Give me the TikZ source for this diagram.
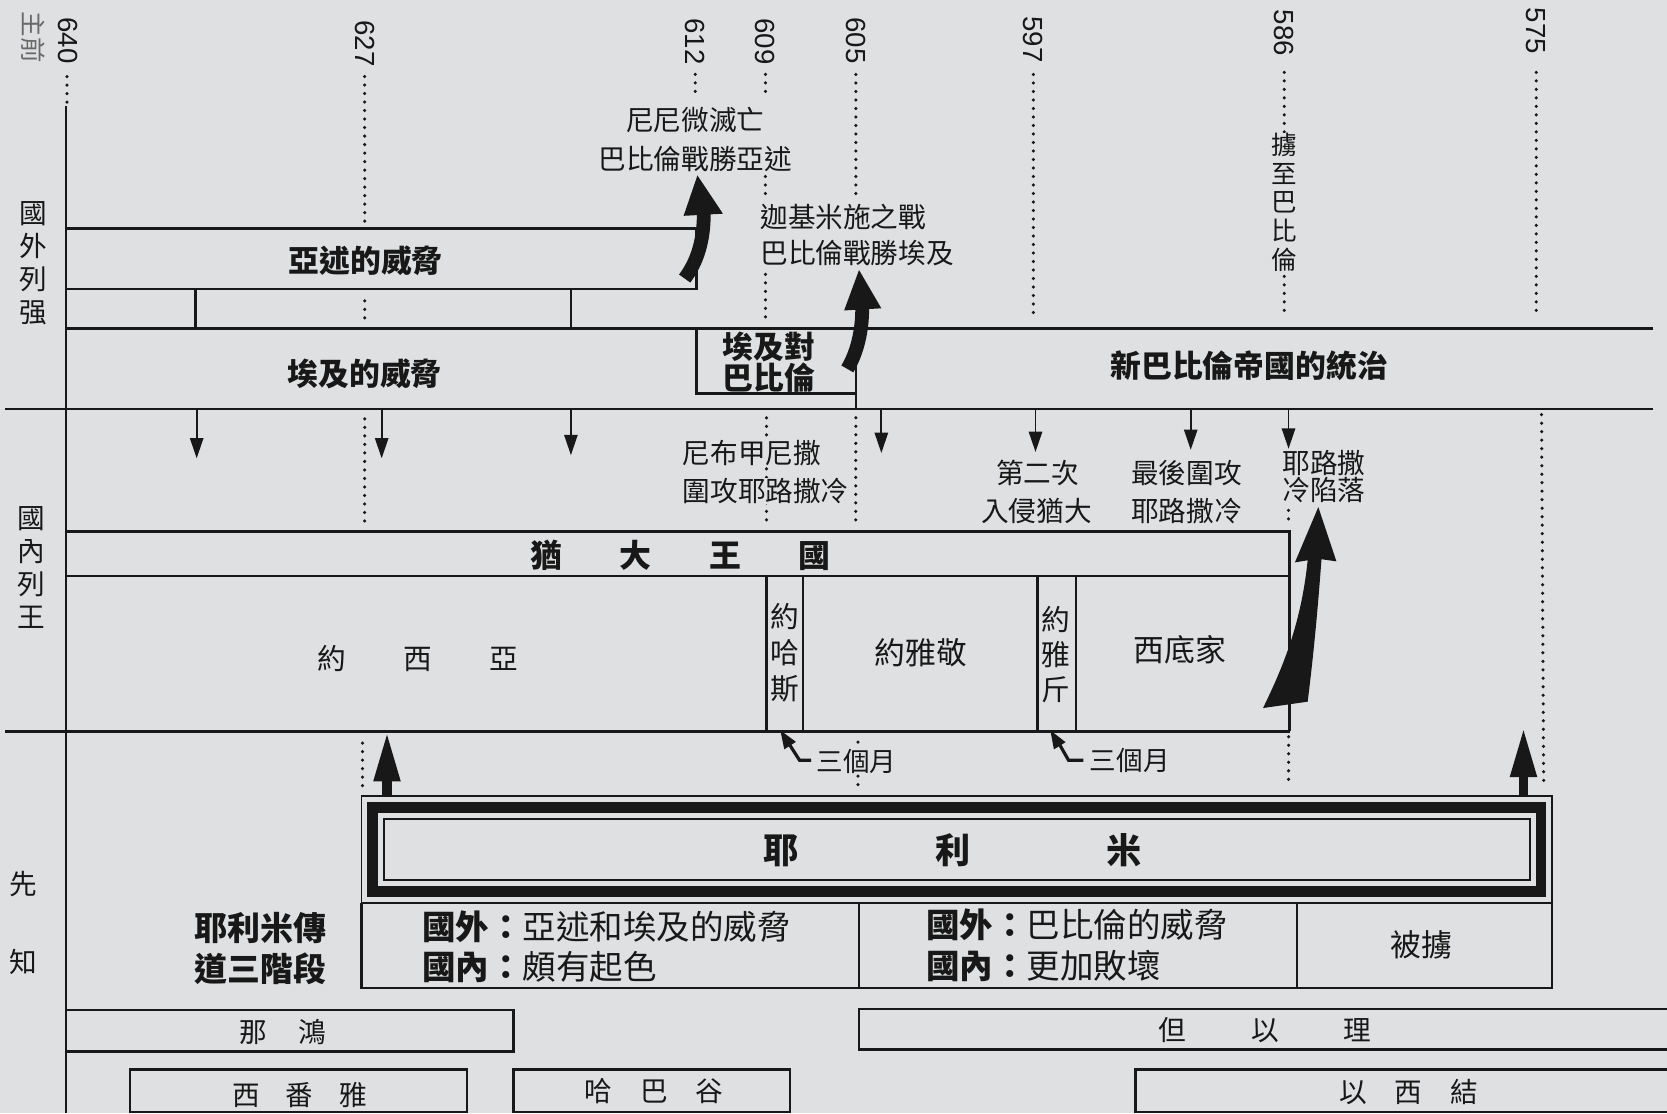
\documentclass[tikz,border=0pt]{standalone}
\usepackage{fontspec}
\setmainfont{Liberation Sans}
\newfontfamily\cjk{Noto Sans CJK TC}
\definecolor{bg}{RGB}{222,224,225}
\definecolor{ink}{RGB}{24,24,24}
\newcommand{\myfs}[1]{\fontsize{#1}{#1}\selectfont}
\newcommand{\myfsb}[2]{\fontsize{#1}{#2}\selectfont}
\begin{document}
\begin{tikzpicture}[x=1pt,y=-1pt,
  ln/.style={line width=2.2pt, draw=ink},
  thin/.style={line width=1.7pt, draw=ink},
  dots/.style={line width=3.3pt, line cap=round, dash pattern=on 0pt off 8pt, draw=ink},
  txt/.style={inner sep=0pt, text=ink, font=\cjk\myfs{26}},
  btxt/.style={inner sep=0pt, text=ink, font=\cjk\bfseries\myfs{29}},
  yr/.style={inner sep=0pt, text=ink, rotate=-90, font=\myfs{26}}]
\fill[bg] (0,0) rectangle (1568,1047);
\useasboundingbox (0,0) rectangle (1568,1047);
\clip (0,0) rectangle (1568,1047);

% axis
\draw[ln] (62,100) -- (62,1047);
\draw[dots] (63,72) -- (63,97);

% year labels
\node[yr] (y640) at (64,38) {640};
\node[yr] (y627) at (343,41) {627};
\node[yr] (y612) at (654,39) {612};
\node[yr] (y609) at (720,39) {609};
\node[yr] (y605) at (805,38) {605};
\node[yr] (y597) at (972,37) {597};
\node[yr] (y586) at (1208,31) {586};
\node[yr] (y575) at (1445,29) {575};
\node[yr, font=\cjk\myfs{24}, text=ink!65] (zq) at (31,35) {主前};

% dotted year lines
\draw[dots] (343,72) -- (343,210);
\draw[dots] (343,283) -- (343,306);
\draw[dots] (343,394) -- (343,495);
\draw[dots] (341,699) -- (341,741);
\draw[dots] (654,70) -- (654,91);
\draw[dots] (720,70) -- (720,91);
\draw[dots] (720,166) -- (720,188);
\draw[dots] (720,258) -- (720,301);
\draw[dots] (721,393) -- (721,496);
\draw[dots] (805,70) -- (805,186);
\draw[dots] (805,393) -- (805,494);
\draw[dots] (807,698) -- (807,738);
\draw[dots] (972,70) -- (972,298);
\draw[dots] (1208,68) -- (1208,298);
\draw[dots] (1212,480) -- (1212,492);
\draw[dots] (1212,693) -- (1212,740);
\draw[dots] (1445,68) -- (1445,295);
\draw[dots] (1450,390) -- (1452,740);

% foreign powers
\draw[ln] (62,215) -- (655,215) -- (655,272) -- (62,272);
\draw[ln] (184,272) -- (184,309);
\draw[ln] (537,272) -- (537,309);
\draw[ln] (62,309) -- (1555,309);
\draw[ln] (655,309) -- (655,370) -- (805,370);
\draw[ln] (805,309) -- (805,385);
\draw[ln] (5,385) -- (1555,385);

% down arrows
\foreach \x/\t in {185/431, 359/431, 537/428, 829/426, 974/425, 1120/423, 1212/422} {
  \draw[thin] (\x,385) -- (\x,\t-14);
  \fill[ink] (\x-6.5,\t-19) -- (\x+6.5,\t-19) -- (\x,\t) -- cycle;
}

% kingdom
\draw[ln] (62,500) -- (1213,500) -- (1213,688);
\draw[ln] (62,542) -- (1213,542);
\draw[ln] (5,688) -- (1213,688);
\draw[ln] (721,542) -- (721,688);
\draw[ln] (755,542) -- (755,688);
\draw[ln] (976,542) -- (976,688);
\draw[ln] (1012,542) -- (1012,688);

% Jeremiah frame
\draw[thin] (340,749) rectangle (1460,849);
\draw[ink, line width=10pt] (350.5,759.5) rectangle (1449.5,838.5);
\draw[thin] (361,770) rectangle (1439,828);
\draw[ln] (340,849) -- (340,929) -- (1460,929) -- (1460,849);
\draw[ln] (808,849) -- (808,929);
\draw[ln] (1220,849) -- (1220,929);

% up arrows from Jeremiah
\fill[ink] (359,749) rectangle (369,733);
\fill[ink] (351,735) -- (377,735) -- (364,691) -- cycle;
\fill[ink] (1429,749) rectangle (1437,729);
\fill[ink] (1420,731) -- (1446,731) -- (1433,687) -- cycle;

% prophets boxes
\draw[ln] (62,950) -- (483,950) -- (483,989) -- (62,989);
\draw[ln] (1570,949) -- (808,949) -- (808,987) -- (1570,987);
\draw[ln] (122,1046) -- (122,1006) -- (439,1006) -- (439,1046) -- cycle;
\draw[ln] (483,1046) -- (483,1006) -- (743,1006) -- (743,1046) -- cycle;
\draw[ln] (1570,1006) -- (1068,1006) -- (1068,1046) -- (1570,1046);

% curved arrows
\draw[ink, line width=13pt] (644,262) .. controls (656,246) and (662,226) .. (662,201);
\fill[ink] (643,203) -- (680,201) -- (656,165) -- cycle;
\draw[ink, line width=13pt] (797,347) .. controls (806,332) and (811,312) .. (811,290);
\fill[ink] (794,292) -- (829,290) -- (808,254) -- cycle;
\fill[ink] (1240,477) -- (1257,528) -- (1243,526) .. controls (1239,580) and (1235,620) .. (1230,660) -- (1188,666) .. controls (1208,625) and (1224,585) .. (1230,527) -- (1218,529) -- cycle;

% three-month arrows
\draw[ink, line width=3pt] (763,715) -- (752,715) -- (743,701);
\fill[ink] (734,687) -- (748.7,697.8) -- (737.7,704.8) -- cycle;
\draw[ink, line width=3pt] (1019,715) -- (1005,715) -- (997,701);
\fill[ink] (988,687) -- (1002.3,698.1) -- (991.3,704.9) -- cycle;

% side labels
\node[txt, align=center, font=\cjk\myfsb{26}{31}] (gw) at (31,248) {國\\外\\列\\强};
\node[txt, align=center, font=\cjk\myfsb{26}{31}] (gn) at (29,534) {國\\內\\列\\王};
\node[txt] (xian) at (22,832) {先};
\node[txt] (zhi) at (22,905) {知};

% bold labels
\node[btxt] (asshur) at (344,245) {亞述的威脅};
\node[btxt] (egypt) at (343,352) {埃及的威脅};
\node[btxt] (nbab) at (1175,344) {新巴比倫帝國的統治};
\node[btxt] (evb1) at (723,326) {埃及對};
\node[btxt] (evb2) at (723,355) {巴比倫};
\node[btxt, font=\cjk\bfseries\myfs{30}] (judah) at (640,522) {猶\hspace{54pt}大\hspace{54pt}王\hspace{54pt}國};
\node[btxt, font=\cjk\bfseries\myfs{33}] (jer) at (896,800) {耶\hspace{128pt}利\hspace{128pt}米};
\node[btxt, font=\cjk\bfseries\myfs{31}] (st1) at (245,873) {耶利米傳};
\node[btxt, font=\cjk\bfseries\myfs{31}] (st2) at (245,911) {道三階段};

% stage boxes
\node[txt, anchor=west, font=\cjk\myfs{31.5}] (s1a) at (397,872) {{\bfseries 國外：}亞述和埃及的威脅};
\node[txt, anchor=west, font=\cjk\myfs{31.5}] (s1b) at (397,910) {{\bfseries 國內：}頗有起色};
\node[txt, anchor=west, font=\cjk\myfs{31.5}] (s2a) at (871,870) {{\bfseries 國外：}巴比倫的威脅};
\node[txt, anchor=west, font=\cjk\myfs{31.5}] (s2b) at (871,909) {{\bfseries 國內：}更加敗壞};
\node[txt, font=\cjk\myfs{29}] (s3) at (1337,889) {被擄};

% event labels
\node[txt] (e1a) at (654,113) {尼尼微滅亡};
\node[txt] (e1b) at (654,150) {巴比倫戰勝亞述};
\node[txt, anchor=west] (e2a) at (715,204) {迦基米施之戰};
\node[txt, anchor=west] (e2b) at (715,238) {巴比倫戰勝埃及};
\node[txt, align=center, fill=bg, font=\cjk\myfsb{24}{27}] (e3) at (1208,190) {擄\\至\\巴\\比\\倫};
\node[txt, anchor=west, fill=bg] (e4a) at (642,426) {尼布甲尼撒};
\node[txt, anchor=west, fill=bg] (e4b) at (642,462) {圍攻耶路撒冷};
\node[txt] (e5a) at (976,445) {第二次};
\node[txt] (e5b) at (975,481) {入侵猶大};
\node[txt] (e6a) at (1116,445) {最後圍攻};
\node[txt] (e6b) at (1116,481) {耶路撒冷};
\node[txt, anchor=west] (e7a) at (1206,436) {耶路撒};
\node[txt, anchor=west] (e7b) at (1206,461) {冷陷落};

% kings
\node[txt, font=\cjk\myfs{27}] (k1) at (393,619) {約\hspace{54pt}西\hspace{54pt}亞};
\node[txt, align=center, font=\cjk\myfsb{27}{33.5}] (k2) at (738,614) {約\\哈\\斯};
\node[txt, font=\cjk\myfs{29}] (k3) at (866,614) {約雅敬};
\node[txt, align=center, font=\cjk\myfsb{27}{33}] (k4) at (993,616) {約\\雅\\斤};
\node[txt, font=\cjk\myfs{29}] (k5) at (1110,611) {西底家};
\node[txt, anchor=west, fill=bg, font=\cjk\myfs{25}] (m1) at (768,716) {三個月};
\node[txt, anchor=west, font=\cjk\myfs{25}] (m2) at (1025,715) {三個月};

% prophets
\node[txt] (p1) at (266,971) {那\hspace{30pt}鴻};
\node[txt] (p2) at (1190,969) {但\hspace{61pt}以\hspace{61pt}理};
\node[txt] (p3) at (282,1030) {西\hspace{24.5pt}番\hspace{24.5pt}雅};
\node[txt] (p4) at (615,1026) {哈\hspace{26pt}巴\hspace{26pt}谷};
\node[txt] (p5) at (1325,1027) {以\hspace{26.5pt}西\hspace{26.5pt}結};
\end{tikzpicture}
\end{document}
